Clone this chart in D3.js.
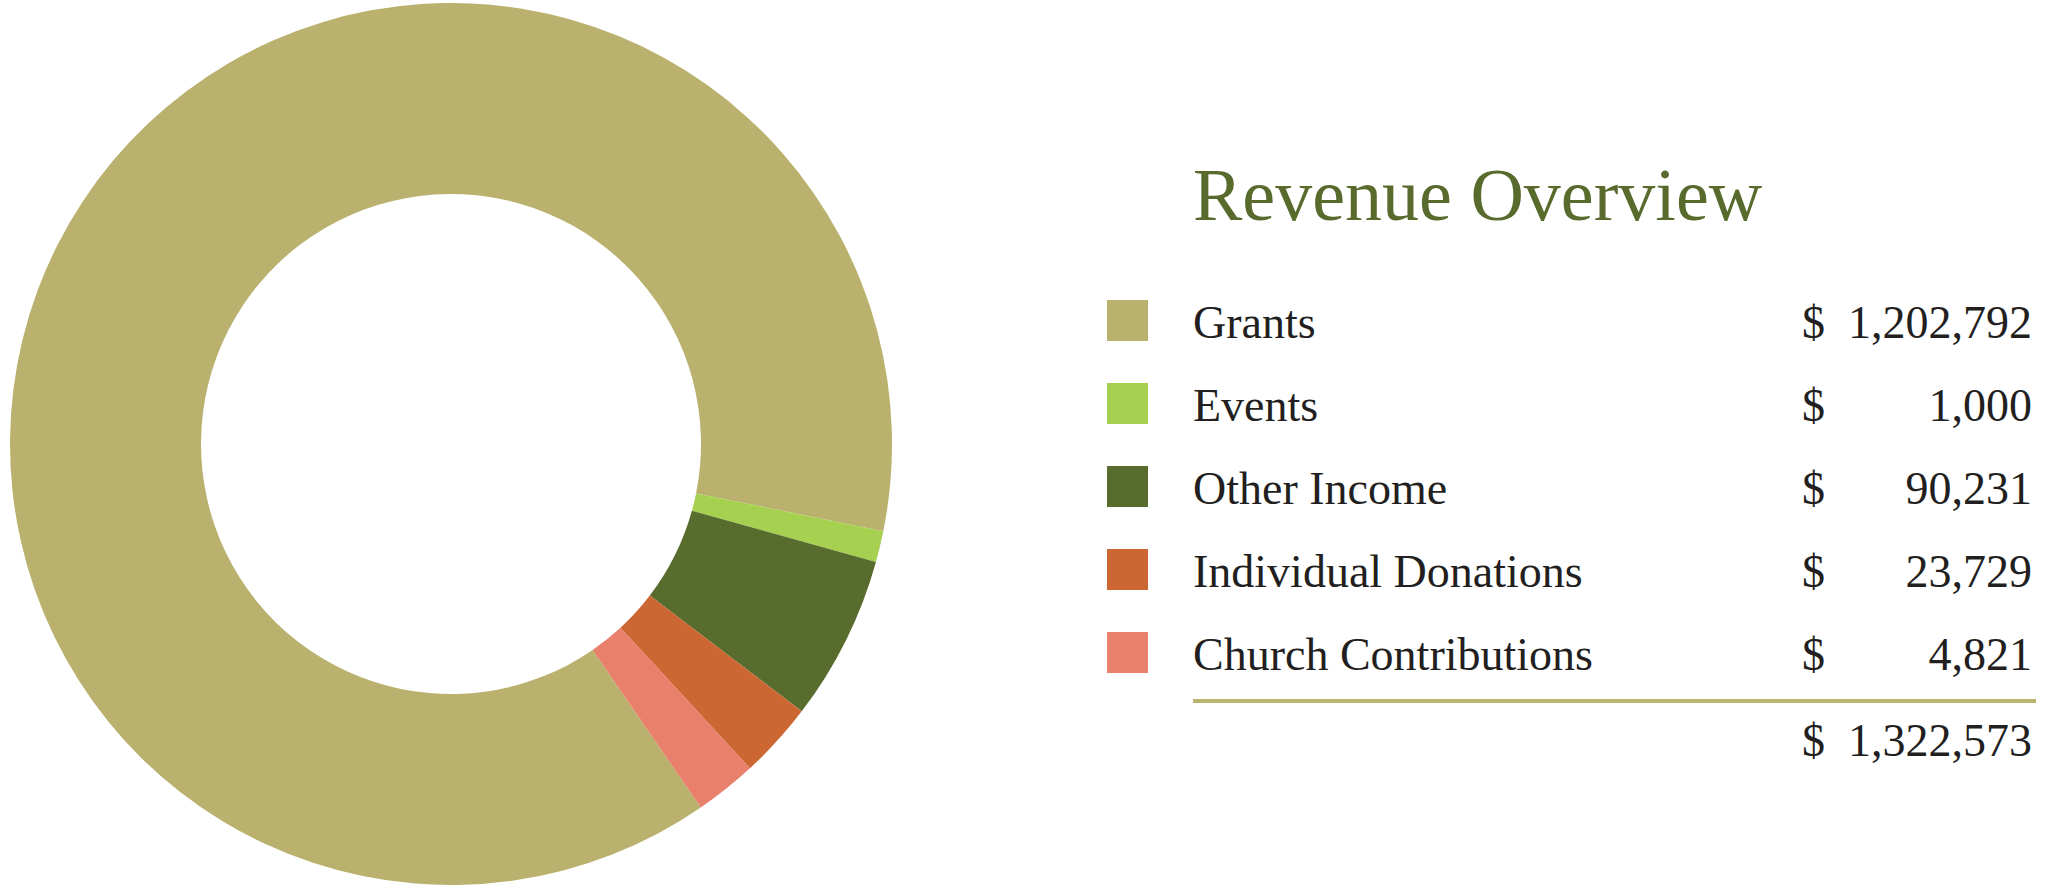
<!DOCTYPE html>
<html>
<head>
<meta charset="utf-8">
<script src="https://cdn.jsdelivr.net/npm/d3@7"></script>
<style>
  html, body { margin: 0; padding: 0; background: #ffffff; }
  svg { display: block; }
</style>
</head>
<body>
<svg id="chart" width="2072" height="889"></svg>
<script>
// ---- data ----
const categories = ["Grants", "Events", "Other Income", "Individual Donations", "Church Contributions"];
const amounts = [1202792, 1000, 90231, 23729, 4821];
const totalAmount = 1322573;
// slice shares (%) as drawn in the donut
const sliceShares = [87.75, 1.14, 6.06, 2.78, 2.27];
const colors = ["#B9B16D", "#A6D04F", "#576C2D", "#CC6733", "#E8806B"];
const titleText = "Revenue Overview";

// ---- layout ----
const svg = d3.select("#chart");
const cx = 451, cy = 444, outerR = 441, innerR = 250;
const startDeg = -214.5;

const pie = d3.pie().sort(null).value(d => d.share)
  .startAngle(startDeg * Math.PI / 180)
  .endAngle(startDeg * Math.PI / 180 + 2 * Math.PI);
const arc = d3.arc().innerRadius(innerR).outerRadius(outerR);

const slices = categories.map((c, i) => ({ name: c, share: sliceShares[i], color: colors[i] }));

svg.append("g").attr("transform", `translate(${cx},${cy})`)
  .selectAll("path").data(pie(slices)).join("path")
  .attr("d", arc)
  .attr("fill", d => d.data.color);

// ---- legend / table ----
const fontFam = "'Liberation Serif', 'DejaVu Serif', serif";
const textColor = "#231F20";
svg.append("text")
  .attr("x", 1193).attr("y", 220)
  .attr("font-family", fontFam).attr("font-size", 74)
  .attr("fill", "#586B2C")
  .text(titleText);

const rowY = d3.scaleLinear().domain([0, 1]).range([338, 421]);
const fmt = d3.format(",");

const rows = svg.append("g").selectAll("g").data(slices).join("g")
  .attr("transform", (d, i) => `translate(0,${rowY(i)})`);

rows.append("rect")
  .attr("x", 1107).attr("y", -38).attr("width", 41).attr("height", 41)
  .attr("fill", d => d.color);

rows.append("text")
  .attr("x", 1193).attr("y", 0)
  .attr("font-family", fontFam).attr("font-size", 46)
  .attr("fill", textColor)
  .text(d => d.name);

rows.append("text")
  .attr("x", 1802).attr("y", 0)
  .attr("font-family", fontFam).attr("font-size", 46)
  .attr("fill", textColor)
  .text("$");

rows.append("text")
  .attr("x", 2032).attr("y", 0)
  .attr("text-anchor", "end")
  .attr("font-family", fontFam).attr("font-size", 46)
  .attr("fill", textColor)
  .text((d, i) => fmt(amounts[i]));

// separator
svg.append("line")
  .attr("x1", 1193).attr("x2", 2036)
  .attr("y1", 701).attr("y2", 701)
  .attr("stroke", "#BAB46E").attr("stroke-width", 4);

// total
svg.append("text")
  .attr("x", 1802).attr("y", 756)
  .attr("font-family", fontFam).attr("font-size", 46)
  .attr("fill", textColor)
  .text("$");
svg.append("text")
  .attr("x", 2032).attr("y", 756)
  .attr("text-anchor", "end")
  .attr("font-family", fontFam).attr("font-size", 46)
  .attr("fill", textColor)
  .text(fmt(totalAmount));
</script>
</body>
</html>
